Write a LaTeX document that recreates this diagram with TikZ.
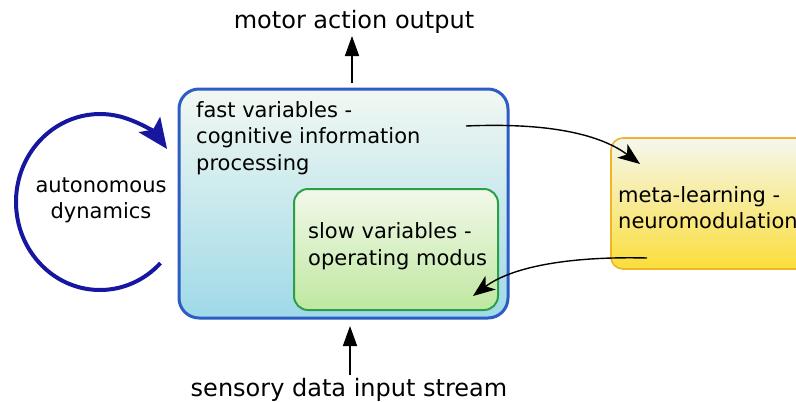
\documentclass[tikz,border=0pt]{standalone}
\usepackage{fontspec}
\setmainfont{DejaVu Sans}
\usetikzlibrary{arrows.meta}
\definecolor{bluebd}{RGB}{44,92,197}
\definecolor{bluetop}{RGB}{242,248,242}
\definecolor{bluebot}{RGB}{159,217,232}
\definecolor{greenbd}{RGB}{44,160,72}
\definecolor{greentop}{RGB}{242,248,234}
\definecolor{greenbot}{RGB}{191,232,160}
\definecolor{yellbd}{RGB}{240,180,41}
\definecolor{yelltop}{RGB}{245,247,239}
\definecolor{yellbot}{RGB}{251,222,58}
\definecolor{loopcol}{RGB}{22,22,160}
\tikzset{
  boxtext/.style={anchor=base west,inner sep=0pt,align=left,font=\fontsize{21}{26.5}\selectfont},
  bigtext/.style={anchor=base,inner sep=0pt,font=\fontsize{24}{28}\selectfont},
  io/.style={-{Stealth[length=20pt,width=14pt,inset=0pt]},line width=1.6pt},
  curvearrow/.style={-{Stealth[length=22pt,width=17pt,inset=6pt]},line width=1.4pt},
}
\begin{document}
\begin{tikzpicture}[x=1pt,y=-1pt]
\useasboundingbox (0,0) rectangle (796,402);
\clip (0,0) rectangle (796,402);
% fast box
\path[draw=bluebd,line width=3pt,rounded corners=20pt,top color=bluetop,bottom color=bluebot]
  (179,89) rectangle (508,318);
\node (fastbox) at (343.5,203.5) [minimum width=329pt,minimum height=229pt,inner sep=0pt] {};
% slow box
\path[draw=greenbd,line width=2pt,rounded corners=14pt,top color=greentop,bottom color=greenbot]
  (294,189) rectangle (498,310);
% meta box
\path[draw=yellbd,line width=1.6pt,rounded corners=12pt,top color=yelltop,bottom color=yellbot]
  (611,138) rectangle (840,269);
% texts (base anchor = baseline of last line)
\node[boxtext] (fast) at (196,170) {fast variables -\\cognitive information\\processing};
\node[boxtext] (slow) at (308,265) {slow variables -\\operating modus};
\node[boxtext,font=\fontsize{21}{26}\selectfont] (meta) at (618,228) {meta-learning -\\neuromodulation};
\node[anchor=base,inner sep=0pt,align=center,font=\fontsize{21}{26}\selectfont] (auto) at (101,218) {autonomous\\dynamics};
\node[bigtext] (motor) at (354,28) {motor action output};
\node[bigtext] (sensory) at (349,396) {sensory data input stream};
% coordinates
\coordinate (upS) at (352,83);
\coordinate (upE) at (352,36);
\coordinate (dnS) at (350,375);
\coordinate (dnE) at (350,326);
\coordinate (c1s) at (466,126);
\coordinate (c1e) at (640,164);
\coordinate (c2s) at (647,258);
\coordinate (c2e) at (473,296);
% connectors
\draw[io] (upS) -- (upE);
\draw[io] (dnS) -- (dnE);
\draw[curvearrow] (c1s) .. controls (560,122) and (605,138) .. (c1e);
\draw[curvearrow] (c2s) .. controls (565,256) and (510,268) .. (c2e);
% loop
\draw[loopcol,line width=4pt,-{Stealth[length=30pt,width=26pt,inset=6pt]}]
  (100,202) ++(-44:84pt and 88pt) arc[start angle=-44,end angle=-323,x radius=84pt,y radius=88pt];
\end{tikzpicture}
\end{document}
